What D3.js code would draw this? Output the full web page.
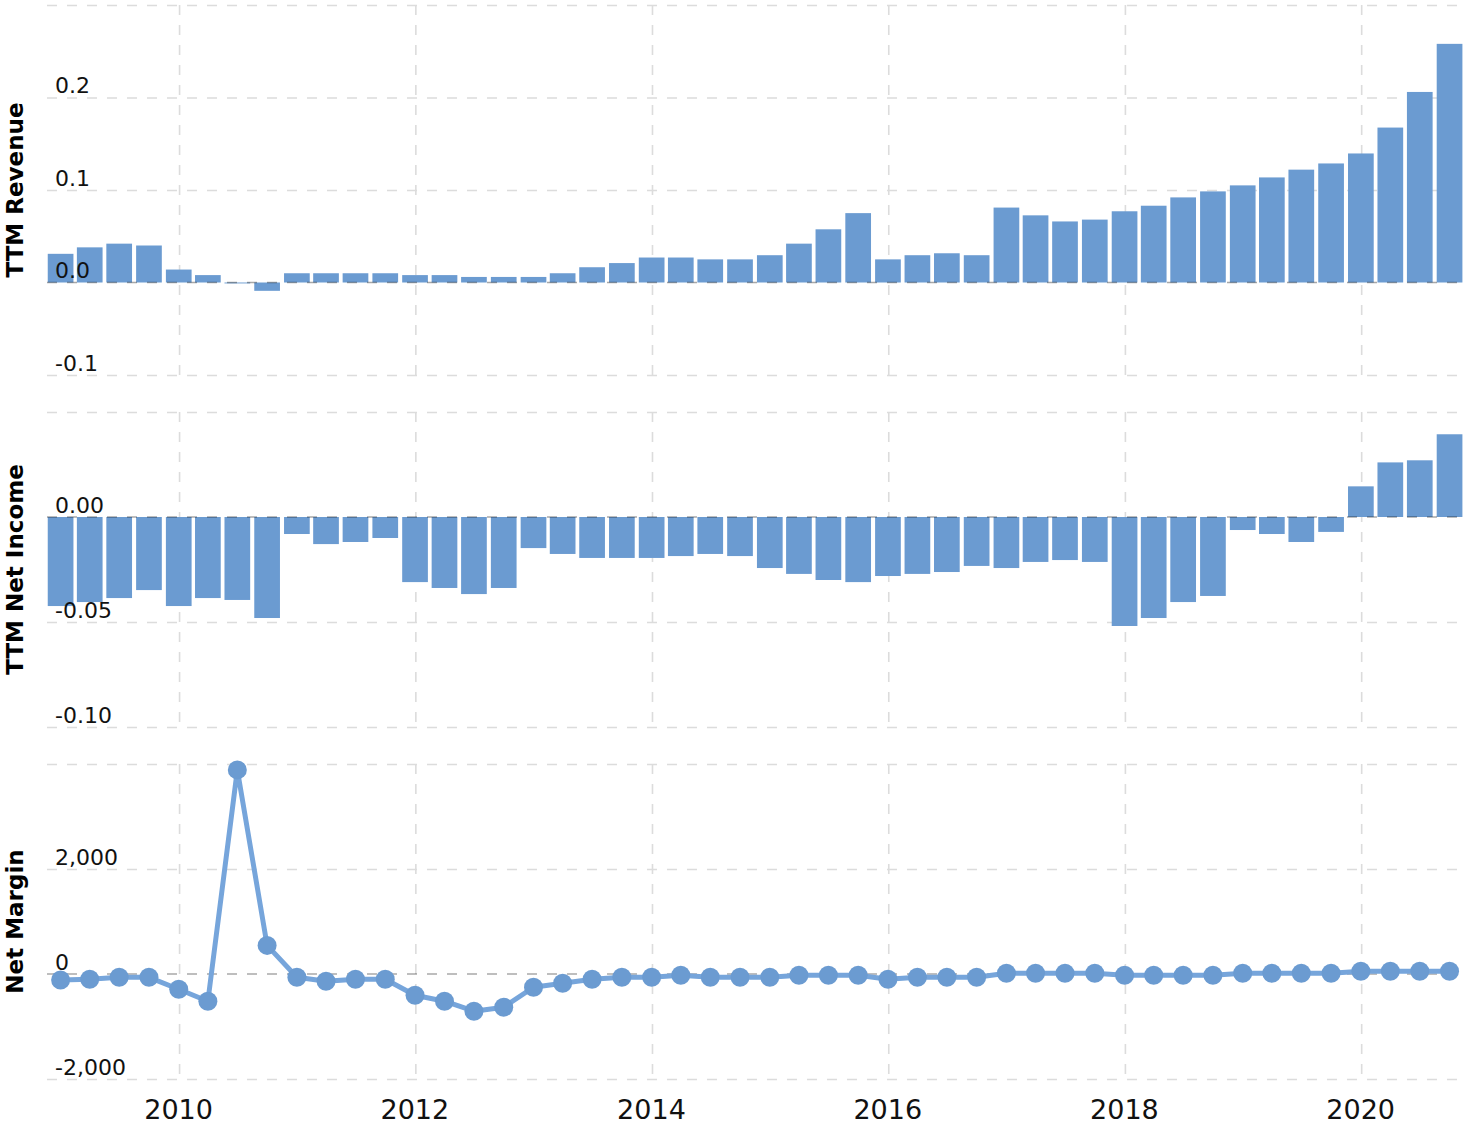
<!DOCTYPE html>
<html>
<head>
<meta charset="utf-8">
<script src="https://cdn.jsdelivr.net/npm/d3@7"></script>
<style>
  html, body { margin: 0; padding: 0; background: #fff; }
  svg { display: block; font-family: "DejaVu Sans", Verdana, sans-serif; }
</style>
</head>
<body>
<svg id="chart" width="1468" height="1124"></svg>
<script>
// ---- data ----
const dates = [
  "2008-12-31","2009-03-31","2009-06-30","2009-09-30",
  "2009-12-31","2010-03-31","2010-06-30","2010-09-30",
  "2010-12-31","2011-03-31","2011-06-30","2011-09-30",
  "2011-12-31","2012-03-31","2012-06-30","2012-09-30",
  "2012-12-31","2013-03-31","2013-06-30","2013-09-30",
  "2013-12-31","2014-03-31","2014-06-30","2014-09-30",
  "2014-12-31","2015-03-31","2015-06-30","2015-09-30",
  "2015-12-31","2016-03-31","2016-06-30","2016-09-30",
  "2016-12-31","2017-03-31","2017-06-30","2017-09-30",
  "2017-12-31","2018-03-31","2018-06-30","2018-09-30",
  "2018-12-31","2019-03-31","2019-06-30","2019-09-30",
  "2019-12-31","2020-03-31","2020-06-30","2020-09-30"
];
const ttmRevenue = [
  0.031, 0.038, 0.042, 0.040, 0.014, 0.008, -0.001, -0.009,
  0.010, 0.010, 0.010, 0.010, 0.008, 0.008, 0.006, 0.006,
  0.006, 0.010, 0.0165, 0.021, 0.027, 0.027, 0.025, 0.025,
  0.0295, 0.042, 0.0575, 0.075, 0.025, 0.0295, 0.0316, 0.0295,
  0.081, 0.0726, 0.066, 0.068, 0.077, 0.083, 0.092, 0.0985,
  0.105, 0.1136, 0.122, 0.1287, 0.1395, 0.1675, 0.206, 0.258
];
const ttmNetIncome = [
  -0.0424, -0.0405, -0.0386, -0.0348, -0.0424, -0.0386, -0.0395, -0.0481,
  -0.0081, -0.0129, -0.0119, -0.0100, -0.0310, -0.0338, -0.0367, -0.0338,
  -0.0148, -0.0176, -0.0195, -0.0195, -0.0195, -0.0186, -0.0176, -0.0186,
  -0.0243, -0.0271, -0.0300, -0.0310, -0.0281, -0.0271, -0.0262, -0.0233,
  -0.0243, -0.0214, -0.0205, -0.0214, -0.0519, -0.0481, -0.0405, -0.0376,
  -0.0062, -0.0081, -0.0119, -0.0071, 0.0146, 0.0260, 0.0270, 0.0394
];
const netMargin = [
  -114, -100, -63, -63, -291, -518, 3888, 545,
  -63, -139, -100, -100, -404, -518, -708, -632,
  -253, -177, -100, -63, -63, -25, -63, -63,
  -63, -25, -25, -25, -100, -63, -63, -63,
  13, 13, 13, 13, -25, -25, -25, -25,
  13, 13, 13, 13, 51, 51, 51, 51
];
const panelTitles = ["TTM Revenue", "TTM Net Income", "Net Margin"];
const revTicks = [-0.1, 0.0, 0.1, 0.2];
const revGrid = [-0.1, 0.0, 0.1, 0.2, 0.3];
const niTicks = [-0.10, -0.05, 0.00];
const niGrid = [-0.10, -0.05, 0.00, 0.05];
const nmTicks = [-2000, 0, 2000];
const nmGrid = [-2000, 0, 2000, 4000];
const yearTicks = [2010, 2012, 2014, 2016, 2018, 2020];

// ---- layout ----
const left = 47, right = 1457;
const barColor = "#6b9bd1";
const lineColor = "#76a5db";
const gridColor = "#dcdcdc";
const dash = "10,10";

const parse = d3.utcParse("%Y-%m-%d");
const dd = dates.map(parse);

const svg = d3.select("#chart");

const x = d3.scaleUtc()
  .domain([new Date(Date.UTC(2008, 10, 19)), new Date(Date.UTC(2020, 9, 23))])
  .range([left, right]);

const panels = [
  { top: 5, bottom: 375, domain: [-0.1, 0.3], grid: revGrid, ticks: revTicks,
    fmt: d3.format(".1f"), values: ttmRevenue, type: "bar", title: panelTitles[0] },
  { top: 412, bottom: 727, domain: [-0.10, 0.05], grid: niGrid, ticks: niTicks,
    fmt: d3.format(".2f"), values: ttmNetIncome, type: "bar", title: panelTitles[1] },
  { top: 764, bottom: 1079, domain: [-2000, 4000], grid: nmGrid, ticks: nmTicks,
    fmt: d3.format(","), values: netMargin, type: "line", title: panelTitles[2] }
];

const barW = 25.7;
const minusFix = s => s.replace("\u2212", "-");

panels.forEach(p => {
  const y = d3.scaleLinear().domain(p.domain).range([p.bottom, p.top]);
  const g = svg.append("g");

  // vertical grid lines (every two years)
  const vAxis = d3.axisBottom(x)
    .tickValues(yearTicks.map(yr => new Date(Date.UTC(yr, 0, 1))))
    .tickSize(p.bottom - p.top)
    .tickFormat("");
  const vg = g.append("g").attr("transform", `translate(0,${p.top})`).call(vAxis);
  vg.select(".domain").remove();
  vg.selectAll("line").attr("stroke", gridColor).attr("stroke-width", 1.6)
    .attr("stroke-dasharray", dash);

  // horizontal grid lines
  const hAxis = d3.axisRight(y)
    .tickValues(p.grid.filter(v => v !== 0))
    .tickSize(right - left)
    .tickFormat("");
  const hg = g.append("g").attr("transform", `translate(${left},0)`).call(hAxis);
  hg.select(".domain").remove();
  hg.selectAll("line").attr("stroke", gridColor).attr("stroke-width", 1.6)
    .attr("stroke-dasharray", dash);

  // marks
  if (p.type === "bar") {
    g.append("g").selectAll("rect")
      .data(p.values)
      .join("rect")
      .attr("x", (d, i) => x(dd[i]) - barW / 2)
      .attr("width", barW)
      .attr("y", d => Math.min(y(d), y(0)))
      .attr("height", d => Math.abs(y(d) - y(0)))
      .attr("fill", barColor);
  }

  // zero line (drawn on top of bars)
  g.append("line")
    .attr("x1", left).attr("x2", right)
    .attr("y1", y(0)).attr("y2", y(0))
    .attr("stroke", "rgba(0,0,0,0.34)")
    .attr("stroke-width", 1.6)
    .attr("stroke-dasharray", dash);

  if (p.type === "line") {
    const line = d3.line().x((d, i) => x(dd[i])).y(d => y(d));
    g.append("path")
      .datum(p.values)
      .attr("d", line)
      .attr("fill", "none")
      .attr("stroke", lineColor)
      .attr("stroke-width", 5)
      .attr("stroke-linejoin", "round");
    g.append("g").selectAll("circle")
      .data(p.values)
      .join("circle")
      .attr("cx", (d, i) => x(dd[i]))
      .attr("cy", d => y(d))
      .attr("r", 9.5)
      .attr("fill", barColor);
  }

  // tick labels (inside the plot, above each grid line)
  g.append("g").selectAll("text")
    .data(p.ticks)
    .join("text")
    .attr("x", 55)
    .attr("y", d => y(d) - 4.5)
    .attr("font-size", 22)
    .attr("fill", "#111")
    .text(d => minusFix(p.fmt(d)));

  // panel title
  g.append("text")
    .attr("transform", `translate(23,${(p.top + p.bottom) / 2}) rotate(-90)`)
    .attr("text-anchor", "middle")
    .attr("font-size", 23)
    .attr("font-weight", "bold")
    .attr("fill", "#000")
    .text(p.title);
});

// x axis labels
const xAxis = d3.axisBottom(x)
  .tickValues(yearTicks.map(yr => new Date(Date.UTC(yr, 0, 1))))
  .tickSize(0)
  .tickFormat(d3.utcFormat("%Y"));
const xg = svg.append("g").attr("transform", "translate(-1,1119)").call(xAxis);
xg.select(".domain").remove();
xg.selectAll("text")
  .attr("y", 0).attr("dy", 0)
  .attr("font-size", 27)
  .attr("font-family", "DejaVu Sans, Verdana, sans-serif")
  .attr("fill", "#111");
</script>
</body>
</html>
